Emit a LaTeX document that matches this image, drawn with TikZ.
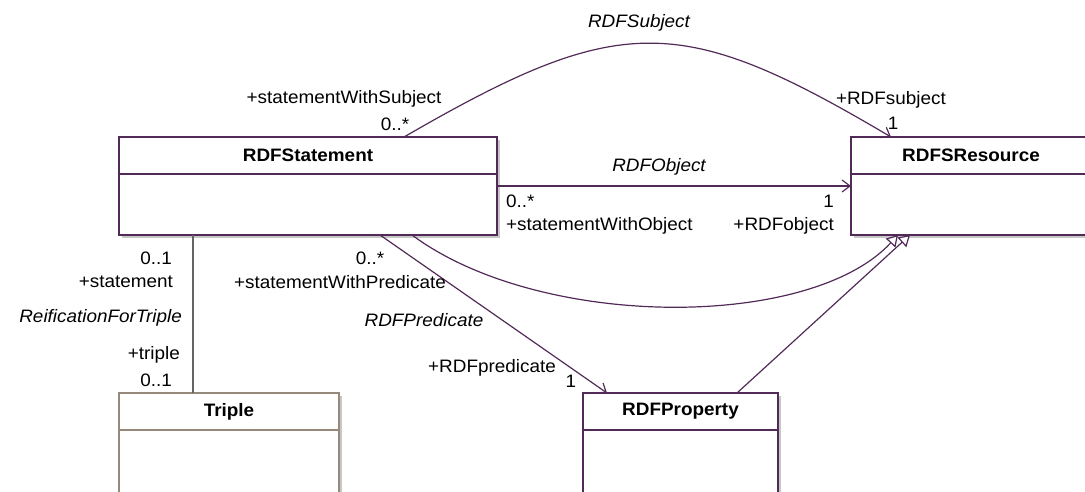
\documentclass[tikz,border=0pt]{standalone}
\usepackage{fontspec}
\setmainfont[FakeStretch=1.05]{Liberation Sans}
\usetikzlibrary{arrows.meta,shadows}

\definecolor{umlline}{RGB}{82,42,88}
\definecolor{tripleline}{RGB}{150,136,122}
\definecolor{reifline}{RGB}{100,100,100}

\tikzset{
  classhead/.style={draw=umlline, line width=1.2pt, fill=white, inner sep=0pt, outer sep=0pt,
    minimum height=37pt, font=\fontsize{18}{20}\selectfont\bfseries,
    drop shadow={shadow xshift=3pt, shadow yshift=-3pt, fill=black!22, opacity=1}},
  classbody/.style={draw=umlline, line width=1.2pt, fill=white, inner sep=0pt, outer sep=0pt,
    anchor=north, drop shadow={shadow xshift=3pt, shadow yshift=-3pt, fill=black!22, opacity=1}},
  assoc/.style={draw=umlline, line width=1.2pt},
  navarrow/.style={-{Straight Barb[length=8pt,width=12pt]}},
  genarrow/.style={-{Triangle[open,length=11pt,width=13pt,fill=white]}},
  role/.style={inner sep=0pt, font=\fontsize{18}{20}\selectfont},
  assocname/.style={inner sep=0pt, font=\fontsize{18}{20}\selectfont\itshape}
}

\begin{document}
\begin{tikzpicture}[x=1pt,y=-1pt]
  \useasboundingbox (0,0) rectangle (1085,491);
  \clip (0,0) rectangle (1085,491);

  % classes
  \node[classhead, minimum width=378pt] (stmt) at (308,155.5) {RDFStatement};
  \node[classbody, minimum width=378pt, minimum height=61pt] (stmtbody) at (stmt.south) {};

  \node[classhead, minimum width=240pt] (res) at (971,155.5) {RDFSResource};
  \node[classbody, minimum width=240pt, minimum height=61pt] (resbody) at (res.south) {};

  \node[classhead, draw=tripleline, minimum width=220pt] (triple) at (229,411.5) {Triple};
  \node[classbody, draw=tripleline, minimum width=220pt, minimum height=80pt] (triplebody) at (triple.south) {};

  \node[classhead, minimum width=195pt] (prop) at (680.5,411.5) {RDFProperty};
  \node[classbody, minimum width=195pt, minimum height=80pt] (propbody) at (prop.south) {};

  % associations
  \draw[assoc, navarrow] ([xshift=285pt]stmt.north west) .. controls (620,12) and (680,12) .. ([xshift=40pt]res.north west);
  \draw[assoc, navarrow] ([yshift=-12pt]stmtbody.north east) -- ([yshift=-12pt]resbody.north west);
  \draw[assoc, navarrow] ([xshift=261pt]stmtbody.south west) -- ([xshift=24pt]prop.north west);
  \draw[reifline, line width=1.2pt] ([xshift=74pt]stmtbody.south west) -- ([xshift=74pt]triple.north west);

  % generalizations
  \draw[assoc, genarrow] ([xshift=293pt]stmtbody.south west) .. controls (540,330) and (810,330) .. ([xshift=47pt]resbody.south west);
  \draw[assoc, genarrow] ([xshift=154pt]prop.north west) -- ([xshift=59pt]resbody.south west);

  % association names
  \node[assocname] (subjname) at (639,23) {RDFSubject};
  \node[assocname] (objname) at (659,167) {RDFObject};
  \node[assocname] (predname) at (424,320) {RDFPredicate};
  \node[assocname, anchor=east] (reifname) at (182,318) {ReificationForTriple};

  % roles and multiplicities
  \node[role] (subjrole) at (344,99) {+statementWithSubject};
  \node[role] (subjmult) at (395,124) {0..*};
  \node[role, anchor=east] (rsubjrole) at (946,100) {+RDFsubject};
  \node[role] (rsubjmult) at (893,123) {1};

  \node[role, anchor=west] (objmult) at (506,201) {0..*};
  \node[role, anchor=west] (objrole) at (506,226) {+statementWithObject};
  \node[role, anchor=east] (robjmult) at (834,201) {1};
  \node[role, anchor=east] (robjrole) at (834,226) {+RDFobject};

  \node[role] (predmult) at (370,258) {0..*};
  \node[role] (predrole) at (340,282) {+statementWithPredicate};
  \node[role, anchor=east] (rpredrole) at (556,368) {+RDFpredicate};
  \node[role] (rpredmult) at (571,381) {1};

  \node[role, anchor=east] (stmtmult) at (172,258) {0..1};
  \node[role, anchor=east] (stmtrole) at (173,282) {+statement};
  \node[role, anchor=east] (triplerole) at (180,355) {+triple};
  \node[role, anchor=east] (triplemult) at (172,380) {0..1};
\end{tikzpicture}
\end{document}
